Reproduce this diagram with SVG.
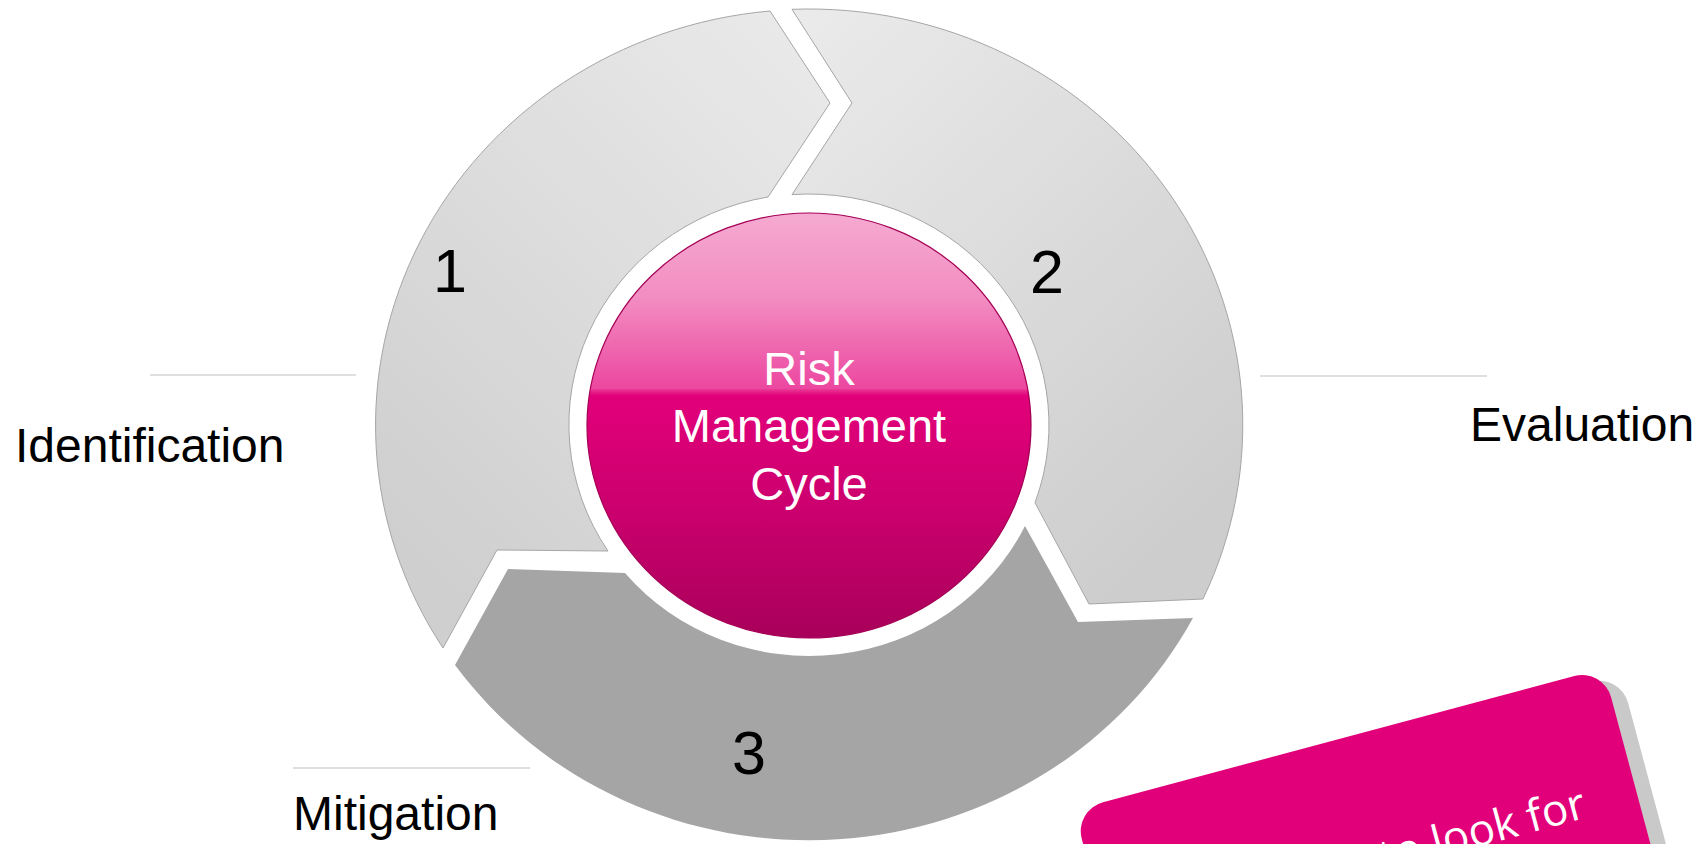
<svg xmlns="http://www.w3.org/2000/svg" width="1707" height="844" viewBox="0 0 1707 844">
  <style>
    .arrowLight { stroke: #A6A6A6; stroke-width: 1; }
    .num { font-family: "Liberation Sans", Arial, sans-serif; font-size: 61px; fill: #000000; text-anchor: middle; }
    .label { font-family: "Liberation Sans", Arial, sans-serif; font-size: 48px; fill: #000000; }
    .center { font-family: "Liberation Sans", Arial, sans-serif; font-size: 47px; fill: #FFFFFF; text-anchor: middle; }
    .leader { stroke: #BFBFBF; stroke-width: 1.2; fill: none; }
    .cardText { font-family: "Open Sans", "Noto Sans", sans-serif; font-size: 44px; fill: #FFFFFF; }
  </style>
  <defs>
    <linearGradient id="g1" x1="1" y1="0" x2="0.3" y2="1">
      <stop offset="0" stop-color="#EBEBEB"/>
      <stop offset="1" stop-color="#CFCFCF"/>
    </linearGradient>
    <linearGradient id="g2" x1="0" y1="0" x2="0.7" y2="1">
      <stop offset="0" stop-color="#EBEBEB"/>
      <stop offset="1" stop-color="#CDCDCD"/>
    </linearGradient>
    <linearGradient id="pink" x1="0" y1="0" x2="0" y2="1">
      <stop offset="0" stop-color="#F5AAD1"/>
      <stop offset="0.2" stop-color="#F28DC1"/>
      <stop offset="0.413" stop-color="#EC47A0"/>
      <stop offset="0.416" stop-color="#E93391"/>
      <stop offset="0.43" stop-color="#E2007A"/>
      <stop offset="0.7" stop-color="#CB006E"/>
      <stop offset="1" stop-color="#A8005A"/>
    </linearGradient>
  </defs>
  <rect width="1707" height="844" fill="#FFFFFF"/>

  <g id="arrow1">
    <path class="arrowLight" fill="url(#g1)" d="M443,648 A434,416 0 0 1 770,11 L830,103 L768,197 A240,231 0 0 0 608,551 L497,550 Z"/>
    <text class="num" x="450" y="292">1</text>
  </g>
  <g id="arrow2">
    <path class="arrowLight" fill="url(#g2)" d="M792,9.3 A434,416 0 0 1 1203,599 L1089,604 L1035,502.7 A240,231 0 0 0 792,194.6 L852,103 Z"/>
    <text class="num" x="1047" y="293">2</text>
  </g>
  <g id="arrow3">
    <path fill="#A5A5A5" d="M1193,618 A434,416 0 0 1 455,665 L508,569 L625,573 A240,231 0 0 0 1025,526 L1078,622 Z"/>
    <text class="num" x="749" y="774">3</text>
  </g>

  <g id="center">
    <ellipse cx="809" cy="425.5" rx="222" ry="212.5" fill="url(#pink)" stroke="#A50055" stroke-width="1.2"/>
    <text class="center" x="809" y="385">Risk</text>
    <text class="center" x="809" y="442">Management</text>
    <text class="center" x="809" y="500">Cycle</text>
  </g>

  <g id="connectors">
    <line class="leader" x1="150" y1="375" x2="356" y2="375"/>
    <line class="leader" x1="1260" y1="376" x2="1487" y2="376"/>
    <line class="leader" x1="293" y1="768" x2="530" y2="768"/>
  </g>

  <g id="identification">
    <text class="label" x="15" y="462">Identification</text>
  </g>
  <g id="evaluation">
    <text class="label" x="1470" y="441">Evaluation</text>
  </g>
  <g id="mitigation">
    <text class="label" x="293" y="830">Mitigation</text>
  </g>

  <g id="card" transform="translate(1074,810) rotate(-15)">
    <rect x="15" y="10" width="548" height="400" rx="30" ry="30" fill="#C9C9C9"/>
    <rect x="0" y="0" width="548" height="400" rx="30" ry="30" fill="#E2007A"/>
    <text class="cardText" x="495" y="140" text-anchor="end">to look for</text>
  </g>
</svg>
